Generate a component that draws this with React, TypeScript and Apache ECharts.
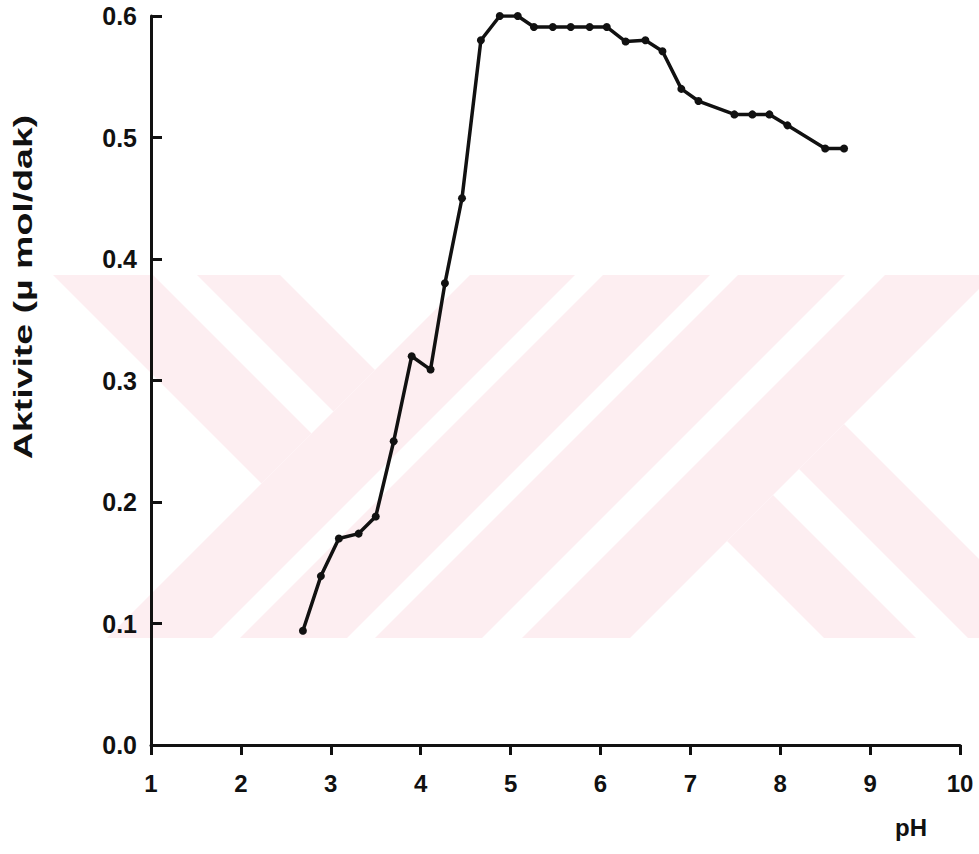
import React, { useEffect, useRef } from "react";
import * as echarts from "echarts";

// pH values (x) and enzyme activity (µmol/dak)
const phValues = [
  2.69, 2.89, 3.09, 3.31, 3.5, 3.7, 3.9, 4.11, 4.27, 4.46, 4.67, 4.88, 5.08, 5.26, 5.47,
  5.67, 5.88, 6.07, 6.28, 6.5, 6.69, 6.9, 7.09, 7.49, 7.69, 7.88, 8.08, 8.5, 8.71,
];
const activityValues = [
  0.094, 0.139, 0.17, 0.174, 0.188, 0.25, 0.32, 0.309, 0.38, 0.45, 0.58, 0.6, 0.6, 0.591, 0.591,
  0.591, 0.591, 0.591, 0.579, 0.58, 0.571, 0.54, 0.53, 0.519, 0.519, 0.519, 0.51, 0.491, 0.491,
];
const xRange = [1, 10];
const yRange = [0, 0.6];
const xStep = 1;
const yStep = 0.1;
const yAxisTitle = "Aktivite (µ mol/dak)";
const xAxisTitle = "pH";

// background watermark shapes (pixel geometry, not data)
const WATERMARK_FILL = "#fdeef1";
const watermarkShapes: number[][][] = [
  [[53, 275], [153, 275], [311.5, 433.5], [261.5, 483.5]],
  [[197, 275], [280, 275], [375, 370], [333.5, 411.5]],
  [[470, 275], [575, 275], [212, 638], [107, 638]],
  [[603, 275], [710, 275], [347, 638], [240, 638]],
  [[738, 275], [845, 275], [482, 638], [375, 638]],
  [[885, 275], [993, 275], [630, 638], [522, 638]],
  [[799, 469], [844, 424], [979, 559], [979, 638], [968, 638]],
  [[727, 541], [773, 495], [916, 638], [824, 638]],
];

const INK = "#111111";
const FONT = '"Liberation Sans", Arial, Helvetica, sans-serif';

export default function App() {
  const ref = useRef<HTMLDivElement>(null);
  useEffect(() => {
    if (!ref.current) return;
    const chart = echarts.init(ref.current, undefined, { renderer: "svg" });
    const points = phValues.map((x, i) => [x, activityValues[i]]);
    const graphics: any[] = watermarkShapes.map((pts) => ({
      type: "polygon",
      shape: { points: pts },
      style: { fill: WATERMARK_FILL },
      z: -1,
      silent: true,
    }));
    graphics.push({
      type: "text",
      x: 23,
      y: 287,
      rotation: Math.PI / 2,
      scaleX: 1.5,
      style: {
        text: yAxisTitle,
        fontSize: 25,
        fontWeight: "bold",
        fontFamily: FONT,
        fill: INK,
        align: "center",
        verticalAlign: "middle",
      },
      z: 5,
    });
    graphics.push({
      type: "text",
      x: 911,
      y: 827,
      style: {
        text: xAxisTitle,
        fontSize: 24,
        fontWeight: "bold",
        fontFamily: FONT,
        fill: INK,
        align: "center",
        verticalAlign: "middle",
      },
      z: 5,
    });
    chart.setOption({
      animation: false,
      backgroundColor: "#ffffff",
      grid: { left: 151, right: 19, top: 16, bottom: 109, containLabel: false },
      graphic: graphics,
      xAxis: {
        type: "value",
        min: xRange[0],
        max: xRange[1],
        interval: xStep,
        axisLine: { show: true, onZero: false, lineStyle: { color: INK, width: 3 } },
        axisTick: { show: true, inside: false, length: 10, lineStyle: { color: INK, width: 3 } },
        axisLabel: {
          margin: 38,
          color: INK,
          fontSize: 24,
          fontWeight: "bold",
          fontFamily: FONT,
          verticalAlign: "middle",
        },
        splitLine: { show: false },
      },
      yAxis: {
        type: "value",
        min: yRange[0],
        max: yRange[1],
        interval: yStep,
        axisLine: { show: true, onZero: false, lineStyle: { color: INK, width: 3 } },
        axisTick: { show: true, inside: true, length: 11, lineStyle: { color: INK, width: 3 } },
        axisLabel: {
          margin: 14,
          color: INK,
          fontSize: 25,
          fontWeight: "bold",
          fontFamily: FONT,
          formatter: (v: number) => v.toFixed(1),
        },
        splitLine: { show: false },
      },
      series: [
        {
          type: "line",
          data: points,
          showSymbol: true,
          symbol: "circle",
          symbolSize: 8,
          itemStyle: { color: INK },
          lineStyle: { color: INK, width: 3.5 },
          z: 3,
        },
      ],
    });
    return () => chart.dispose();
  }, []);
  return (
    <div
      ref={ref}
      style={{ position: "fixed", left: 0, top: 0, width: 979, height: 854, background: "#fff" }}
    />
  );
}
